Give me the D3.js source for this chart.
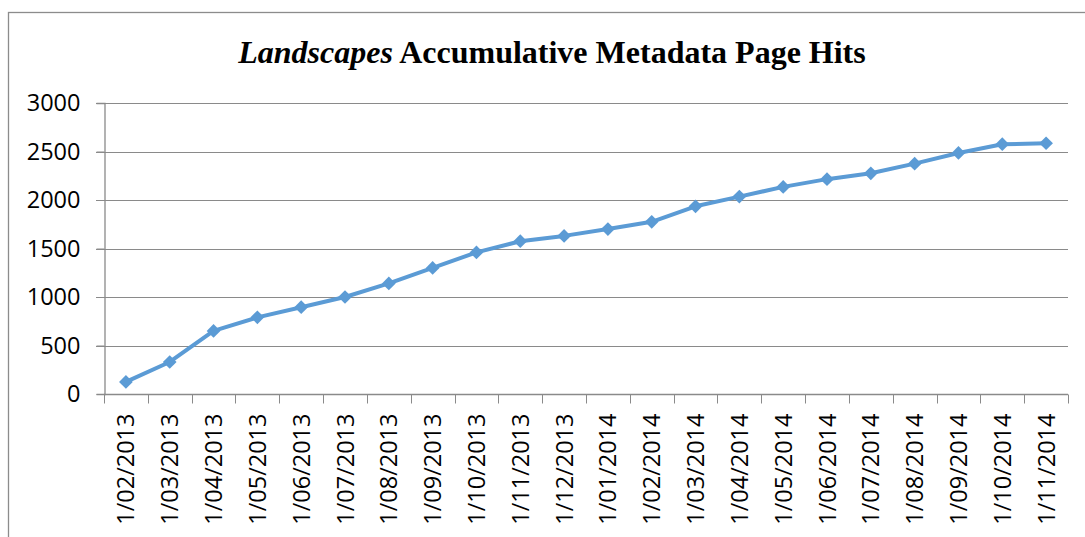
<!DOCTYPE html>
<html>
<head>
<meta charset="utf-8">
<script src="https://cdnjs.cloudflare.com/ajax/libs/d3/7.8.5/d3.min.js"></script>
<style>
  body { margin: 0; background: #fff; }
  svg { display: block; }
</style>
</head>
<body>
<script>
// monthly snapshots of accumulative page hits
var months = ["1/02/2013","1/03/2013","1/04/2013","1/05/2013","1/06/2013","1/07/2013",
  "1/08/2013","1/09/2013","1/10/2013","1/11/2013","1/12/2013","1/01/2014","1/02/2014",
  "1/03/2014","1/04/2014","1/05/2014","1/06/2014","1/07/2014","1/08/2014","1/09/2014",
  "1/10/2014","1/11/2014"];
var hits = [125, 330, 650, 790, 895, 1000, 1140, 1300, 1460, 1575, 1630, 1700, 1775,
  1935, 2035, 2135, 2215, 2275, 2375, 2485, 2575, 2585];
var yTicks = [0, 500, 1000, 1500, 2000, 2500, 3000];

var W = 1085, H = 537;
var margin = {left: 104, right: 17, top: 103, bottom: 143};

var svg = d3.select("body").append("svg")
    .attr("width", W)
    .attr("height", H);

// chart frame (runs off the right and bottom of the picture)
svg.append("rect")
    .attr("x", 8.5).attr("y", 12.5)
    .attr("width", W + 10).attr("height", H + 10)
    .attr("fill", "none")
    .attr("stroke", "#8c8c8c")
    .attr("stroke-width", 1.3);

var x = d3.scaleBand()
    .domain(months)
    .range([margin.left, W - margin.right]);

var y = d3.scaleLinear()
    .domain([0, 3000])
    .range([H - margin.bottom, margin.top]);

// gridlines
svg.append("g")
    .selectAll("line")
    .data(yTicks.slice(1))
    .enter().append("line")
    .attr("x1", margin.left - 8)
    .attr("x2", W - margin.right)
    .attr("y1", function(d){ return Math.round(y(d)) + 0.5 })
    .attr("y2", function(d){ return Math.round(y(d)) + 0.5 })
    .attr("stroke", "#8a8a8a")
    .attr("stroke-width", 1);

// y axis
var yAxis = svg.append("g")
    .attr("transform", "translate(" + (margin.left + 0.5) + ",0)")
    .call(d3.axisLeft(y).tickValues(yTicks).tickSize(8).tickPadding(16).tickFormat(d3.format("d")));
yAxis.select(".domain").attr("stroke", "#8a8a8a").attr("stroke-width", 1.3);
yAxis.selectAll(".tick line").attr("stroke", "#8a8a8a");
yAxis.selectAll("text")
    .attr("font-family", "'Open Sans', sans-serif")
    .attr("font-size", 23.5)
    .attr("fill", "#000");

// x axis, ticks sit on category boundaries
var xAxisG = svg.append("g")
    .attr("transform", "translate(0," + (Math.round(y(0)) + 0.5) + ")");
xAxisG.append("line")
    .attr("x1", margin.left).attr("x2", W - margin.right)
    .attr("stroke", "#8a8a8a").attr("stroke-width", 1.3);
xAxisG.selectAll("line.tk")
    .data(months.concat(["end"]))
    .enter().append("line")
    .attr("class", "tk")
    .attr("x1", function(d, i){ return Math.round(margin.left + i * x.step()) + 0.5 })
    .attr("x2", function(d, i){ return Math.round(margin.left + i * x.step()) + 0.5 })
    .attr("y1", 0).attr("y2", 9)
    .attr("stroke", "#8a8a8a");
xAxisG.selectAll("text")
    .data(months)
    .enter().append("text")
    .attr("transform", function(d){
        return "translate(" + (x(d) + x.bandwidth() / 2 + 8.5) + ",19) rotate(-90)";
    })
    .attr("text-anchor", "end")
    .attr("font-family", "'Open Sans', sans-serif")
    .attr("font-size", 23.5)
    .attr("fill", "#000")
    .text(function(d){ return d });

// series line
var line = d3.line()
    .x(function(d, i){ return x(months[i]) + x.bandwidth() / 2 })
    .y(function(d){ return y(d) });

svg.append("path")
    .datum(hits)
    .attr("d", line)
    .attr("fill", "none")
    .attr("stroke", "#5b9bd5")
    .attr("stroke-width", 4)
    .attr("stroke-linejoin", "round");

// diamond markers
svg.append("g")
    .selectAll("path")
    .data(hits)
    .enter().append("path")
    .attr("d", d3.symbol().type(d3.symbolDiamond2).size(120))
    .attr("transform", function(d, i){
        return "translate(" + (x(months[i]) + x.bandwidth() / 2) + "," + y(d) + ")";
    })
    .attr("fill", "#5b9bd5");

// title
var title = svg.append("text")
    .attr("x", 552)
    .attr("y", 63)
    .attr("text-anchor", "middle")
    .attr("font-family", "'Liberation Serif', 'Times New Roman', serif")
    .attr("font-weight", "bold")
    .attr("font-size", 32)
    .attr("fill", "#000");
title.append("tspan").attr("font-style", "italic").text("Landscapes");
title.append("tspan").text(" Accumulative Metadata Page Hits");
</script>
</body>
</html>
